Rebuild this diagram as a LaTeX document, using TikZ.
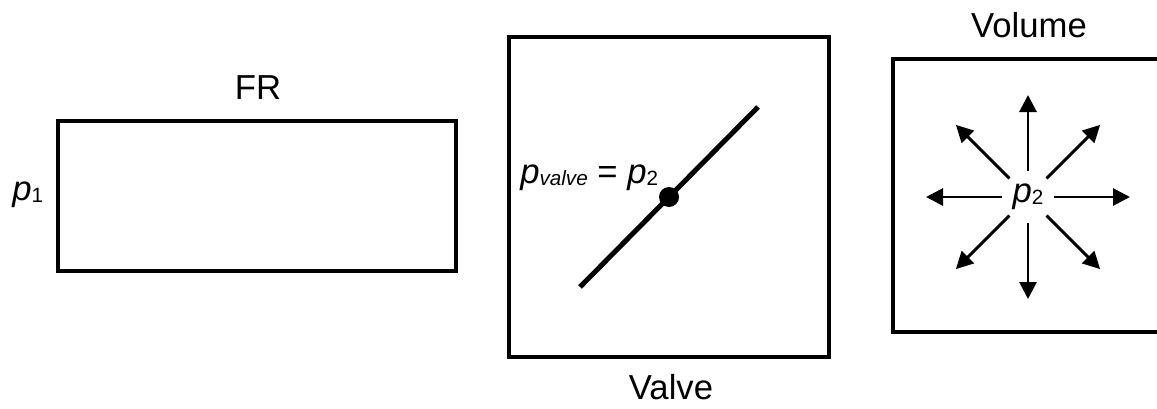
\documentclass[tikz,border=0pt]{standalone}
\usepackage{fontspec}
\setmainfont{Liberation Sans}
\usetikzlibrary{arrows.meta}
\newcommand{\lowsub}[1]{\raisebox{-1.5pt}{\fontsize{15.5}{18}\selectfont #1}}

\begin{document}
\begin{tikzpicture}[x=0.75pt,y=0.75pt,
  every node/.style={font=\fontsize{26}{30}\selectfont, inner sep=0pt},
  frame/.style={draw, line width=3pt},
  ray/.style={-{Triangle[length=12.75pt,width=12.75pt]}, line width=2.2pt}]
  \useasboundingbox (0,0) rectangle (1157,408);
  \clip (0,0) rectangle (1157,408);
  % flow resistance
  \node[frame, minimum width=298.5pt, minimum height=112.5pt] (fr) at (257,212) {};
  \node[anchor=base] (frlabel) at (258,309) {FR};
  \node[anchor=base west] (pin) at (12,208) {\textit{p}\lowsub{1}};
  % valve
  \node[frame, minimum width=240pt, minimum height=240pt] (valve) at (669,211) {};
  \node[anchor=base] (valvelabel) at (671,9) {Valve};
  \coordinate (stemlo) at (580,121);
  \coordinate (stemhi) at (758,301);
  \draw[line width=3.75pt] (stemlo) -- (stemhi);
  \node[circle, fill, minimum size=15pt] (seat) at (669,211) {};
  \node[anchor=base west] (pvalve) at (520,225) {\textit{p}\lowsub{\textit{valve}} = \textit{p}\lowsub{2}};
  % volume
  \node[frame, minimum width=202.5pt, minimum height=204.75pt] (volume) at (1028,212.5) {};
  \node[anchor=base] (volumelabel) at (1029,370) {Volume};
  \node[circle, minimum size=39pt] (pvol) at (1028,211) {\textit{p}\lowsub{2}};
  \foreach \a in {0,45,...,315} {
    \coordinate (tip\a) at ([shift={(\a:102)}]pvol.center);
    \draw[ray] (pvol.\a) -- (tip\a);
  }
\end{tikzpicture}
\end{document}
